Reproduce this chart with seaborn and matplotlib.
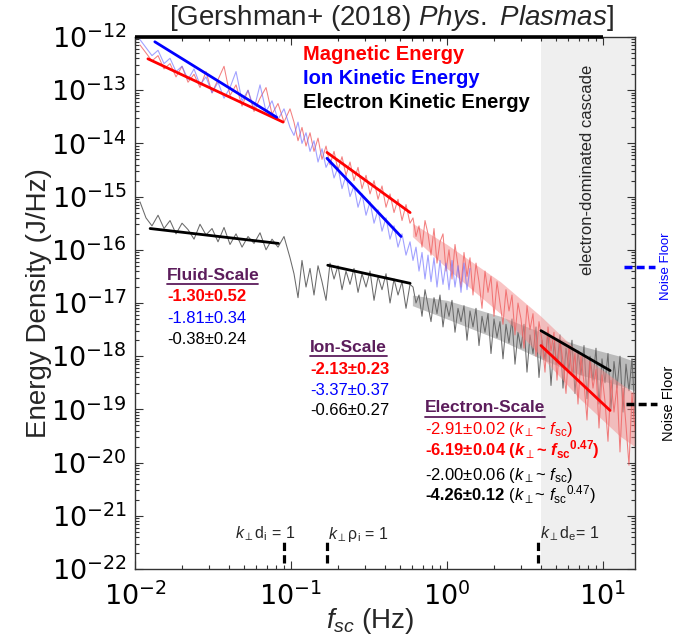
import numpy as np
import pandas as pd
import matplotlib
matplotlib.use("Agg")
import matplotlib.pyplot as plt
import seaborn as sns
from matplotlib.ticker import LogLocator, FixedLocator, FuncFormatter, NullFormatter

# ---------------- data ----------------
freq_hz = [0.01077, 0.01176, 0.01285, 0.01405, 0.01535, 0.01677, 0.01832, 0.02002, 0.02187, 0.02390,
           0.02610, 0.02852, 0.03117, 0.03405, 0.03721, 0.04065, 0.04442, 0.04853, 0.05303, 0.05794,
           0.06330, 0.06917, 0.07557, 0.08254, 0.09018, 0.09854,
           0.1045, 0.1109, 0.1176, 0.1248, 0.1324, 0.1404, 0.1490, 0.1580, 0.1677, 0.1778,
           0.1887, 0.2001, 0.2123, 0.2252, 0.2389, 0.2534, 0.2689, 0.2852, 0.3026, 0.3210,
           0.3405, 0.3612, 0.3831, 0.4065, 0.4312, 0.4574, 0.4852, 0.5147, 0.5460, 0.5792,
           0.6053, 0.6327, 0.6613, 0.6913, 0.7226, 0.7553, 0.7895, 0.8252, 0.8626, 0.9016,
           0.9424, 0.9851, 1.0297, 1.0763, 1.1250, 1.1759, 1.2292, 1.2848, 1.3430, 1.4038,
           1.4673, 1.5338, 1.6032, 1.6758, 1.7516, 1.8309, 1.9138, 2.0004, 2.0910, 2.1856,
           2.2846, 2.3880, 2.4961, 2.6091, 2.7272, 2.8507, 2.9797, 3.1146, 3.2556, 3.4030,
           3.5570, 3.7181, 3.8864, 4.0623, 4.2462, 4.4384, 4.6394, 4.8494, 5.0689, 5.2984,
           5.5383, 5.7890, 6.0511, 6.3250, 6.6114, 6.9107, 7.2235, 7.5506, 7.8924, 8.2497,
           8.6232, 9.0136, 9.4216, 9.8482, 10.294, 10.760, 11.247, 11.756, 12.288, 12.845,
           13.426, 14.034, 14.669, 15.333, 16.027]

# log10 of energy density (J/Hz)
magnetic_log10 = [-12.15, -12.30, -12.45, -12.35, -12.60, -12.50, -12.75, -12.55, -12.85, -12.70,
                  -12.95, -12.65, -13.05, -12.80, -12.55, -13.10, -12.90, -13.30, -13.00, -13.40,
                  -13.15, -12.95, -13.45, -13.25, -13.60, -13.35,
                  -13.60, -13.95, -13.70, -14.05, -13.80, -14.15, -13.90, -14.30, -14.05, -14.40,
                  -14.15, -14.50, -14.25, -14.60, -14.35, -14.70, -14.45, -14.85, -14.60, -14.95,
                  -14.70, -15.05, -14.80, -15.20, -14.95, -15.30, -15.05, -15.45, -15.15, -15.50,
                  -15.40, -15.75, -15.55, -15.95, -15.45, -15.70, -16.10, -15.60, -16.25, -15.85,
                  -15.70, -16.40, -16.00, -16.55, -15.90, -16.30, -16.70, -16.05, -16.50, -16.15,
                  -16.85, -16.25, -16.60, -17.10, -16.40, -16.80, -16.50, -17.25, -16.60, -17.00,
                  -17.40, -16.75, -17.15, -16.85, -17.60, -17.00, -17.30, -17.85, -17.05, -17.50,
                  -17.20, -18.00, -17.35, -17.70, -18.30, -17.45, -17.90, -17.55, -18.45, -17.70,
                  -18.10, -18.70, -17.80, -18.35, -17.95, -18.90, -18.00, -18.50, -19.20, -18.10,
                  -18.60, -18.25, -19.35, -18.35, -18.85, -19.60, -18.45, -19.05, -18.55, -19.80,
                  -18.60, -19.30, -20.05, -18.70, -19.40]

ion_log10 = [-12.05, -12.20, -12.35, -12.25, -12.50, -12.40, -12.65, -12.55, -12.80, -12.60,
             -12.90, -12.75, -13.05, -12.85, -13.15, -12.95, -12.65, -13.20, -13.00, -13.35,
             -12.90, -13.40, -13.20, -13.55, -13.35, -13.70,
             -13.85, -13.60, -14.00, -13.80, -14.15, -13.95, -14.35, -14.10, -14.45, -14.30,
             -14.65, -14.45, -14.85, -14.60, -15.00, -14.80, -15.20, -14.95, -15.35, -15.10,
             -15.50, -15.25, -15.65, -15.40, -15.80, -15.55, -15.95, -15.70, -16.10, -15.85,
             -16.20, -15.95, -16.40, -16.05, -16.55, -16.10, -16.60, -16.15, -16.70, -16.20,
             -16.65, -16.25, -16.75, -16.20, -16.70, -16.30, -16.80, -16.25, -16.75, -16.35]

electron_log10 = [-15.10, -15.40, -15.55, -15.35, -15.60, -15.45, -15.70, -15.50, -15.62, -15.80,
                  -15.52, -15.72, -15.60, -15.85, -15.58, -15.90, -15.70, -15.95, -15.75, -15.88,
                  -15.68, -16.00, -15.80, -15.95, -15.75, -16.15,
                  -16.45, -16.90, -16.20, -16.70, -16.35, -16.85, -16.30, -16.60, -16.95, -16.25,
                  -16.55, -16.30, -16.75, -16.40, -16.65, -16.35, -16.80, -16.45, -16.70, -16.40,
                  -16.95, -16.50, -16.75, -16.45, -17.00, -16.55, -16.85, -16.60, -17.10, -16.65,
                  -16.70, -17.00, -16.85, -17.25, -16.75, -17.05, -17.35, -16.90, -17.20, -16.85,
                  -17.45, -17.00, -17.25, -16.95, -17.55, -17.10, -17.35, -17.05, -17.70, -17.15,
                  -17.45, -17.10, -17.80, -17.25, -17.55, -17.20, -17.95, -17.30, -17.65, -17.35,
                  -18.05, -17.40, -17.75, -17.30, -18.15, -17.55, -17.85, -17.40, -18.30, -17.60,
                  -17.95, -17.45, -18.40, -17.70, -18.05, -17.55, -18.55, -17.75, -18.15, -17.60,
                  -18.60, -17.85, -18.25, -17.70, -18.70, -17.90, -18.35, -17.80, -18.80, -18.00,
                  -18.45, -17.85, -18.90, -18.05, -18.50, -17.95, -19.00, -18.10, -18.60, -18.00,
                  -19.05, -18.15, -18.65, -18.05, -19.10]

# dense high-frequency bands (envelope of the many spectral points)
band_freq_hz = [0.6, 1.0, 2.2, 4.0, 7.1, 12.8, 16.0]
electron_band_top = [-16.85, -16.95, -17.25, -17.55, -17.80, -18.00, -18.10]
electron_band_bot = [-17.05, -17.30, -17.70, -18.05, -18.35, -18.55, -18.65]
magnetic_band_top = [-15.50, -15.90, -16.60, -17.25, -17.95, -18.50, -18.70]
magnetic_band_bot = [-15.75, -16.35, -17.20, -18.00, -18.80, -19.50, -19.70]

# power-law fits: (f_start, f_end), (log10 E_start, log10 E_end)
fits = {
    "fluid_mag": ([0.0121, 0.089], [-12.41, -13.60]),
    "fluid_ion": ([0.0134, 0.081], [-12.09, -13.51]),
    "fluid_ele": ([0.0125, 0.083], [-15.60, -15.88]),
    "ion_mag":   ([0.17, 0.58], [-14.17, -15.30]),
    "ion_ion":   ([0.17, 0.507], [-14.28, -15.75]),
    "ion_ele":   ([0.172, 0.58], [-16.29, -16.63]),
    "ele_mag":   ([4.0, 11.1], [-17.80, -19.02]),
    "ele_ele":   ([4.0, 11.1], [-17.52, -18.27]),
}
fit_colors = {"mag": "#ff0000", "ion": "#0000ff", "ele": "#000000"}

x_ticks = [1e-2, 1e-1, 1e0, 1e1]
y_ticks = [1e-22, 1e-21, 1e-20, 1e-19, 1e-18, 1e-17, 1e-16, 1e-15, 1e-14, 1e-13, 1e-12]

k_di_freq, k_rhoi_freq, k_de_freq = 0.090, 0.17, 3.85
cascade_start_hz = 4.0
ion_noise_floor = 10 ** -16.33
electron_noise_floor = 10 ** -18.89

fluid_stats = ["-1.30±0.52", "-1.81±0.34", "-0.38±0.24"]
ion_stats = ["-2.13±0.23", "-3.37±0.37", "-0.66±0.27"]
electron_stats = ["-2.91±0.02", "-6.19±0.04", "-2.00±0.06", "-4.26±0.12"]

# ---------------- style ----------------
sns.set_theme(style="ticks")
plt.rcParams["font.family"] = ["DejaVu Sans"]
plt.rcParams["mathtext.fontset"] = "custom"
plt.rcParams["mathtext.rm"] = "Liberation Sans"
plt.rcParams["mathtext.it"] = "Liberation Sans:italic"
plt.rcParams["mathtext.bf"] = "Liberation Sans:bold"
plt.rcParams["mathtext.bfit"] = "Liberation Sans:italic:bold"
plt.rcParams["mathtext.sf"] = "Liberation Sans"
plt.rcParams["mathtext.fallback"] = "stixsans"
LS = "Liberation Sans"
PURPLE = "#5c1d5c"

FW, FH = 685, 635
fig = plt.figure(figsize=(FW / 100, FH / 100), dpi=100)
L, R, T, B = 135, 635, 37, 569
ax = fig.add_axes([L / FW, 1 - B / FH, (R - L) / FW, (B - T) / FH])
ax.set_xscale("log")
ax.set_yscale("log")
ax.set_xlim(0.01, 16.03)
ax.set_ylim(1e-22, 1e-12)


def P(x, y):
    return ((x - L) / (R - L), (B - y) / (B - T))


ax.axvspan(cascade_start_hz, 16.03, color="#efefef", lw=0, zorder=0)

f = np.array(freq_hz)
bf = np.array(band_freq_hz)
ax.fill_between(bf, 10.0 ** np.array(electron_band_bot), 10.0 ** np.array(electron_band_top),
                color="#7a7a7a", alpha=0.45, lw=0, zorder=1.5)
sns.lineplot(x=f, y=10.0 ** np.array(electron_log10), ax=ax, color="#6a6a6a", lw=0.75,
             estimator=None, sort=False, zorder=2)
ax.fill_between(bf, 10.0 ** np.array(magnetic_band_bot), 10.0 ** np.array(magnetic_band_top),
                color="#f48a8a", alpha=0.5, lw=0, zorder=2.5)
sns.lineplot(x=f, y=10.0 ** np.array(magnetic_log10), ax=ax, color="#f06060", lw=0.75, alpha=0.8,
             estimator=None, sort=False, zorder=3)
sns.lineplot(x=f[:len(ion_log10)], y=10.0 ** np.array(ion_log10), ax=ax, color="#7070ff", lw=0.8,
             alpha=0.65, estimator=None, sort=False, zorder=4)

for key, (ff, vv) in fits.items():
    sns.lineplot(x=ff, y=10.0 ** np.array(vv), ax=ax, color=fit_colors[key.split("_")[1]], lw=2.0,
                 estimator=None, sort=False, zorder=6)

# ---------------- axes formatting ----------------
ax.xaxis.set_major_locator(FixedLocator(x_ticks))
ax.yaxis.set_major_locator(FixedLocator(y_ticks))
ax.xaxis.set_minor_locator(LogLocator(base=10, subs=np.arange(2, 10) * 1.0, numticks=200))
ax.yaxis.set_minor_locator(LogLocator(base=10, subs=np.arange(2, 10) * 1.0, numticks=200))
fmt = FuncFormatter(lambda v, p: r"$\mathdefault{10^{%d}}$" % int(round(np.log10(v))))
ax.xaxis.set_major_formatter(fmt)
ax.yaxis.set_major_formatter(fmt)
ax.xaxis.set_minor_formatter(NullFormatter())
ax.yaxis.set_minor_formatter(NullFormatter())
ax.tick_params(which="both", direction="in", top=True, right=True, colors="#333333",
               labelcolor="black", width=0.8)
ax.tick_params(which="major", length=6, labelsize=19.5)
ax.tick_params(axis="x", which="major", pad=10)
ax.tick_params(axis="y", which="major", pad=6)
ax.tick_params(which="minor", length=3)
for s in ax.spines.values():
    s.set_color("#333333")
    s.set_linewidth(1.0)
ax.grid(False)

ax.set_ylabel("Energy Density (J/Hz)", fontsize=20, family=LS)
ax.yaxis.set_label_coords(P(52, 0)[0], 0.5)
ax.set_xlabel(r"$f_{sc}$ (Hz)", fontsize=20, family=LS)
ax.xaxis.set_label_coords(P(370, 0)[0], P(0, 606)[1])

# thick top rule
ax.plot([0.01, 10.0], [1e-12, 1e-12], color="black", lw=2.6, clip_on=False,
        solid_capstyle="butt", zorder=10)

fig.text(391 / FW, 1 - 18 / FH, r"[Gershman+ (2018) $\mathit{Phys.\ Plasmas}$]",
         ha="center", va="center", fontsize=20, family=LS)

# legend-like labels
for txt, col, yy in [("Magnetic Energy", "#ff0000", 54), ("Ion Kinetic Energy", "#0000ff", 78),
                     ("Electron Kinetic Energy", "black", 103)]:
    ax.text(*P(303, yy), txt, color=col, fontsize=14.5, weight="bold", family=LS,
            ha="left", va="center", transform=ax.transAxes, zorder=12)

ax.text(*P(588, 170), "electron-dominated cascade", rotation=90, ha="center", va="center",
        fontsize=12, family=LS, transform=ax.transAxes)


def block(title, x, y_title, x_end, lines):
    ax.text(*P(x, y_title), title, color=PURPLE, fontsize=12.5, weight="bold", family=LS,
            ha="left", va="center", transform=ax.transAxes, zorder=12)
    yu = y_title + 9
    ax.plot([P(x, yu)[0], P(x_end, yu)[0]], [P(x, yu)[1]] * 2, transform=ax.transAxes,
            color=PURPLE, lw=1.3, clip_on=False, zorder=12)
    out = []
    for txt, col, wt, yy in lines:
        out.append(ax.text(*P(x, yy + 6), txt, color=col, fontsize=12, weight=wt, family=LS,
                           ha="left", va="baseline", transform=ax.transAxes, zorder=12))
    return out


block("Fluid-Scale", 167, 275, 258,
      [(fluid_stats[0], "#ff0000", "bold", 295), (fluid_stats[1], "#0000ff", "normal", 317),
       (fluid_stats[2], "black", "normal", 338)])
block("Ion-Scale", 310, 347, 387,
      [(ion_stats[0], "#ff0000", "bold", 368), (ion_stats[1], "#0000ff", "normal", 389),
       (ion_stats[2], "black", "normal", 409)])
eb = block("Electron-Scale", 425, 408, 545,
           [(electron_stats[0] + r" ($k_{\perp}$~ $f_{\rm sc}$)", "#ff0000", "normal", 428),
            (electron_stats[1] + r" ($\mathbfit{k}_{\perp}$~ ${\mathbfit{f}_{\mathbf{sc}}}^{\mathbf{0.47}}$)",
             "#ff0000", "bold", 449),
            (electron_stats[2] + r" ($k_{\perp}$~ $f_{\rm sc}$)", "black", "normal", 474),
            (electron_stats[3], "black", "bold", 494)])
fig.canvas.draw()
bb = eb[-1].get_window_extent()
xa = ax.transAxes.inverted().transform((bb.x1, bb.y0))[0]
ax.text(xa, P(0, 500)[1], r" ($k_{\perp}$~ ${f_{\rm sc}}^{0.47}$)", color="black", fontsize=12,
        family=LS, ha="left", va="baseline", transform=ax.transAxes, zorder=12)

# k-perp markers
xt = ax.get_xaxis_transform()
for fq, lab, xl in [(k_di_freq, r"$k_{\perp}$d$_{\rm i}$ = 1", 235),
                    (k_rhoi_freq, r"$k_{\perp}$ρ$_{\rm i}$ = 1", 328),
                    (k_de_freq, r"$k_{\perp}$d$_{\rm e}$= 1", 540)]:
    ax.plot([fq, fq], [P(0, 563)[1], P(0, 542)[1]], transform=xt, color="black", lw=2.3,
            linestyle=(0, (2.6, 1.3)), zorder=8)
    ax.text(*P(xl, 534), lab, fontsize=11.5, family=LS, ha="left", va="center",
            transform=ax.transAxes, zorder=12)

# noise floors (outside the right edge)
yt = ax.get_yaxis_transform()
ax.plot([P(624, 0)[0], P(655, 0)[0]], [ion_noise_floor] * 2, transform=yt, color="#0000ff",
        lw=2.5, linestyle=(0, (2.3, 1.2)), clip_on=False, zorder=9)
ax.plot([P(626, 0)[0], P(657, 0)[0]], [electron_noise_floor] * 2, transform=yt, color="black",
        lw=2.5, linestyle=(0, (2.3, 1.2)), clip_on=False, zorder=9)
ax.text(*P(666, 266), "Noise Floor", rotation=90, color="#0000ff", fontsize=9.5, family=LS,
        ha="center", va="center", transform=ax.transAxes, clip_on=False)
ax.text(*P(669, 403), "Noise Floor", rotation=90, color="black", fontsize=10.5, family=LS,
        ha="center", va="center", transform=ax.transAxes, clip_on=False)

fig.savefig("out.png", dpi=100)
